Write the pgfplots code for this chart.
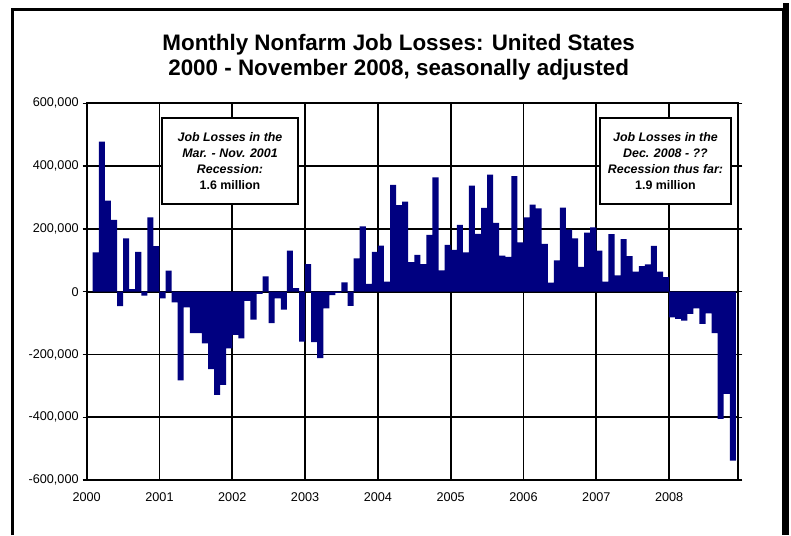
\documentclass[border=0pt]{standalone}
\usepackage{fontspec}
\setmainfont{Liberation Sans}
\usepackage{pgfplots}
\pgfplotsset{compat=1.18}
\definecolor{barblue}{RGB}{0,0,128}

\begin{document}
\begin{tikzpicture}[x=1pt,y=1pt]
\useasboundingbox (0,0) rectangle (593.25,401.25);
\fill[white] (0,0) rectangle (593.25,401.25);
% chart frame with shadow on the right
\draw[line width=2.4pt] (9.5,0) -- (9.5,394) -- (587.5,394) -- (587.5,0);
\fill[black] (587,0) rectangle (592,399);

\begin{axis}[
    at={(65pt,41.25pt)}, anchor=south west,
    scale only axis, width=488.7pt, height=282.5pt,
    xmin=0, xmax=107.4,
    ymin=-600, ymax=600,
    xtick={0,12,24,36,48,60,72,84,96},
    xticklabels={2000,2001,2002,2003,2004,2005,2006,2007,2008},
    ytick={-600,-400,-200,0,200,400,600},
    yticklabels={{-600,000},{-400,000},{-200,000},{0},{200,000},{400,000},{600,000}},
    grid=major,
    grid style={black, line width=1.3pt},
    axis line style={black, line width=1.7pt},
    tick label style={font=\fontsize{9.5}{11}\selectfont},
    xticklabel style={yshift=-3pt},
    yticklabel style={xshift=0.5pt},
    xtick style={draw=none},
    ytick style={black, line width=1pt},
    tick align=outside, major tick length=3pt,
    ybar, bar width=1,
]
\draw[black, line width=1pt] (0,0) -- (107.4,0);

% monthly change in thousands, Feb 2000 - Nov 2008 (x = month index + 0.5)
\addplot[fill=barblue, draw=none] coordinates {
(1.5,125)(2.5,478)(3.5,290)(4.5,229)(5.5,-46)(6.5,170)(7.5,8)(8.5,127)(9.5,-13)(10.5,237)(11.5,145)
(12.5,-21)(13.5,67)(14.5,-34)(15.5,-283)(16.5,-50)(17.5,-132)(18.5,-132)(19.5,-165)(20.5,-247)(21.5,-329)(22.5,-297)(23.5,-181)
(24.5,-138)(25.5,-149)(26.5,-29)(27.5,-89)(28.5,-7)(29.5,49)(30.5,-100)(31.5,-21)(32.5,-57)(33.5,131)(34.5,11)(35.5,-159)
(36.5,88)(37.5,-161)(38.5,-212)(39.5,-53)(40.5,-11)(41.5,-4)(42.5,30)(43.5,-45)(44.5,106)(45.5,208)(46.5,25)(47.5,127)
(48.5,147)(49.5,32)(50.5,340)(51.5,276)(52.5,287)(53.5,94)(54.5,117)(55.5,88)(56.5,181)(57.5,364)(58.5,68)(59.5,149)
(60.5,133)(61.5,213)(62.5,125)(63.5,338)(64.5,184)(65.5,267)(66.5,373)(67.5,219)(68.5,115)(69.5,111)(70.5,368)(71.5,157)
(72.5,237)(73.5,277)(74.5,265)(75.5,152)(76.5,29)(77.5,100)(78.5,268)(79.5,198)(80.5,170)(81.5,79)(82.5,188)(83.5,205)
(84.5,131)(85.5,32)(86.5,183)(87.5,52)(88.5,167)(89.5,113)(90.5,64)(91.5,81)(92.5,87)(93.5,146)(94.5,64)(95.5,46)
(96.5,-82)(97.5,-87)(98.5,-92)(99.5,-71)(100.5,-53)(101.5,-103)(102.5,-69)(103.5,-132)(104.5,-405)(105.5,-326)(106.5,-538)
};
\end{axis}

\node[align=center, font=\fontsize{16.8}{19}\selectfont\bfseries] at (299,358.1)
  {Monthly Nonfarm Job Losses: United States\\2000 - November 2008, seasonally adjusted};

\node[draw, line width=1pt, fill=white, minimum width=102pt, minimum height=64.5pt,
      align=center, font=\fontsize{9.3}{12}\selectfont\bfseries\itshape] at (172.5,280.5)
  {Job Losses in the\\ Mar. - Nov. 2001\\ Recession:\\ \upshape 1.6 million};
\node[draw, line width=1pt, fill=white, minimum width=98.25pt, minimum height=64.5pt,
      align=center, font=\fontsize{9.3}{12}\selectfont\bfseries\itshape] at (499.1,280.5)
  {Job Losses in the\\ Dec. 2008 - ??\\ Recession thus far:\\ \upshape 1.9 million};
\end{tikzpicture}
\end{document}
